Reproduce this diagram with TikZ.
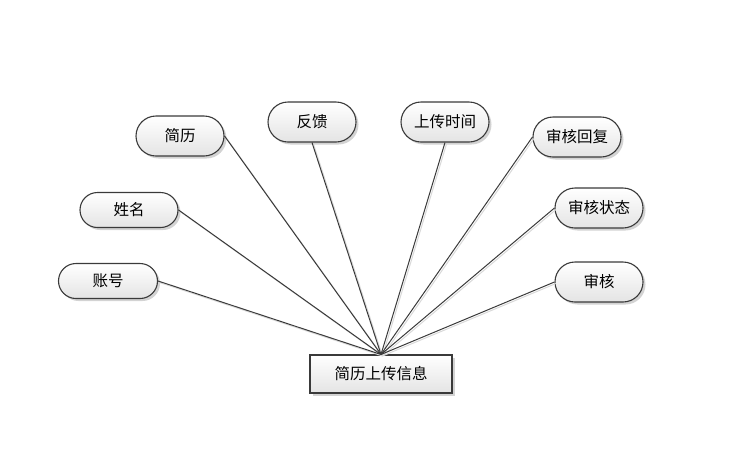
\documentclass[tikz,border=0pt]{standalone}
\usepackage{fontspec}
\setmainfont{Noto Sans CJK SC}
\usepackage{tikz}
\usetikzlibrary{shapes.misc,shadows}
\definecolor{LineGrey}{HTML}{3A3A3A}
\definecolor{ShadeGrey}{HTML}{E4E4E4}

\begin{document}
\begin{tikzpicture}[
  x=1pt, y=-1pt,
  attr/.style   = {rounded rectangle, draw=LineGrey, line width=1.1pt,
                   minimum width=88pt, minimum height=40pt, inner sep=0pt,
                   top color=white, bottom color=ShadeGrey,
                   drop shadow={shadow xshift=2.5pt, shadow yshift=-2.5pt, opacity=0.35},
                   font=\fontsize{15.5}{18}\selectfont},
  entity/.style = {rectangle, draw=LineGrey, line width=1.1pt,
                   minimum width=142pt, minimum height=38pt,
                   top color=white, bottom color=ShadeGrey,
                   drop shadow={shadow xshift=2.5pt, shadow yshift=-2.5pt, opacity=0.35},
                   font=\fontsize{15.5}{18}\selectfont},
  link/.style   = {draw=LineGrey, line width=1pt,
                   preaction={draw=gray!30, line width=1pt,
                              transform canvas={xshift=1.5pt, yshift=-1.5pt}}}
]
  \useasboundingbox (0,0) rectangle (743,451);

  % entity
  \node[entity] (info) at (381,374) {简历上传信息};

  % attributes, left side
  \node[attr] (jianli)   at (180,136) {简历};
  \node[attr] (fankui)   at (312,122) {反馈};
  \node[attr, minimum width=98pt, minimum height=35pt] (xingming) at (129,210) {姓名};
  \node[attr, minimum width=99pt, minimum height=35pt] (zhanghao) at (108,281) {账号};

  % attributes, right side
  \node[attr] (scsj)   at (445,122) {上传时间};
  \node[attr] (shhf)   at (577,137) {审核回复};
  \node[attr] (shzt)   at (599,208) {审核状态};
  \node[attr] (shenhe) at (599,282) {审核};

  % links to the entity
  \foreach \a/\p in {jianli/east,xingming/east,zhanghao/east,fankui/south,
                     scsj/south,shhf/west,shzt/west,shenhe/west}
    \path[link] (\a.\p) -- (info.north);

\end{tikzpicture}
\end{document}
